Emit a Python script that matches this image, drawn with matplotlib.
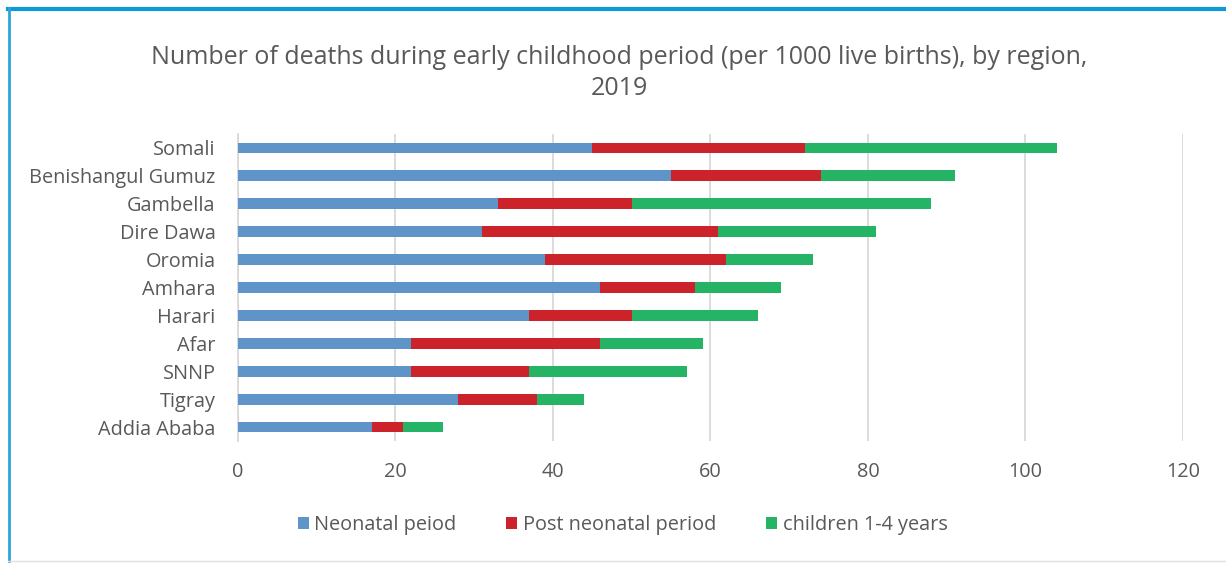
import matplotlib
matplotlib.use("Agg")
import matplotlib.pyplot as plt
from matplotlib.lines import Line2D
from matplotlib.patches import Patch
import numpy as np

regions = ["Somali", "Benishangul Gumuz", "Gambella", "Dire Dawa", "Oromia",
           "Amhara", "Harari", "Afar", "SNNP", "Tigray", "Addia Ababa"]
neonatal = [45, 55, 33, 31, 39, 46, 37, 22, 22, 28, 17]
post_neonatal = [27, 19, 17, 30, 23, 12, 13, 24, 15, 10, 4]
children_1_4 = [32, 17, 38, 20, 11, 11, 16, 13, 20, 6, 5]
series_names = ["Neonatal peiod", "Post neonatal period", "children 1-4 years"]
colors = ["#5F94C8", "#CC2229", "#25B465"]
xticks = [0, 20, 40, 60, 80, 100, 120]

plt.rcParams["font.family"] = ["Open Sans", "DejaVu Sans"]
text_color = "#595959"

fig = plt.figure(figsize=(12.26, 5.63), dpi=100)
ax = fig.add_axes([0.1941, 0.2167, 0.7708, 0.5453])

y = np.arange(len(regions))
left = np.zeros(len(regions))
for vals, name, c in zip([neonatal, post_neonatal, children_1_4], series_names, colors):
    ax.barh(y, vals, left=left, height=0.39, color=c, label=name, zorder=3)
    left += np.array(vals)

ax.set_ylim(len(regions) - 0.5, -0.5)
ax.set_yticks(y)
ax.set_yticklabels(regions, fontsize=14.3, color=text_color)
ax.set_xlim(0, 120)
ax.set_xticks(xticks)
ax.set_xticklabels([str(t) for t in xticks], fontsize=14.3, color=text_color)
ax.tick_params(axis="both", length=0)
ax.tick_params(axis="x", pad=15)
ax.tick_params(axis="y", pad=16)
ax.grid(axis="x", color="#D9D9D9", linewidth=1.3, zorder=0)
for s in ["top", "right", "bottom"]:
    ax.spines[s].set_visible(False)
ax.spines["left"].set_color("#D9D9D9")
ax.spines["left"].set_linewidth(1.3)

fig.text(0.505, 0.898, "Number of deaths during early childhood period (per 1000 live births), by region,",
         ha="center", va="center", fontsize=18, color=text_color)
fig.text(0.505, 0.842, "2019", ha="center", va="center", fontsize=18, color=text_color)

handles = [Patch(facecolor=c, edgecolor="none") for c in colors]
fig.legend(handles, series_names, loc="center", bbox_to_anchor=(0.508, 0.068), ncol=3,
           frameon=False, fontsize=14.3, labelcolor=text_color, handlelength=0.55,
           handleheight=0.55, handletextpad=0.3, columnspacing=2.5)

# frame around the figure
fig.add_artist(Line2D([8 / 1226, 1], [1 - 9 / 563, 1 - 9 / 563], transform=fig.transFigure,
                      color="#0E9AD6", linewidth=3))
fig.add_artist(Line2D([9 / 1226, 9 / 1226], [1 - 8 / 563, 1 - 561 / 563], transform=fig.transFigure,
                      color="#2BA6DC", linewidth=2))
fig.add_artist(Line2D([8 / 1226, 1], [1 - 561 / 563, 1 - 561 / 563], transform=fig.transFigure,
                      color="#E0E0E0", linewidth=1))

fig.savefig("out.png", dpi=100, facecolor="white")
